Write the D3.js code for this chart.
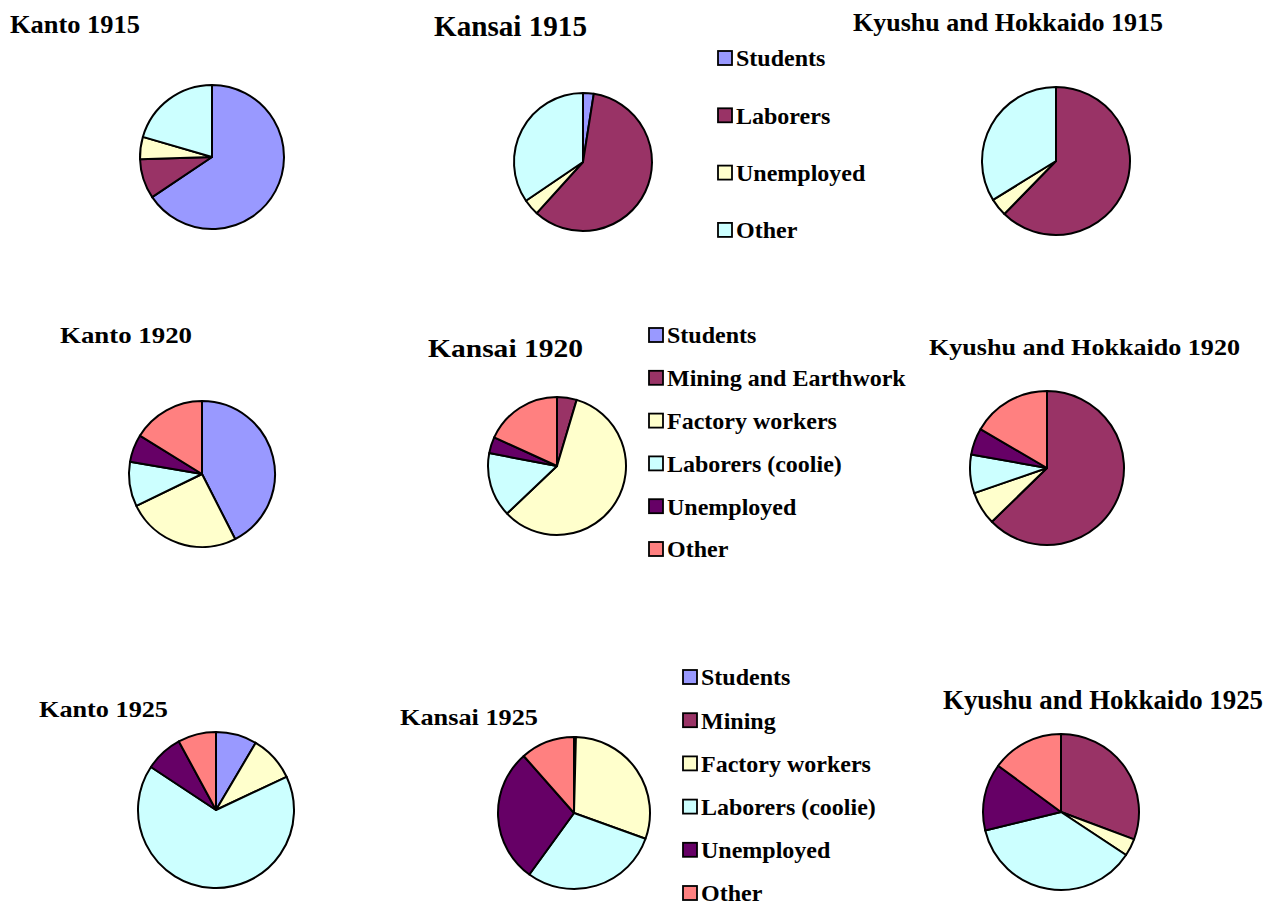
<!DOCTYPE html>
<html>
<head>
<meta charset="utf-8">
<script src="https://cdn.jsdelivr.net/npm/d3@7/dist/d3.min.js"></script>
<style>
  html, body { margin: 0; padding: 0; background: #fff; }
  svg { display: block; }
  text { font-family: "Liberation Serif", "Times New Roman", serif; font-weight: bold; fill: #000; }
</style>
</head>
<body>
<svg id="chart" width="1280" height="906"></svg>
<script>
// ---------------- DATA ----------------
const cats1915 = ["Students", "Laborers", "Unemployed", "Other"];
const cats1920 = ["Students", "Mining and Earthwork", "Factory workers", "Laborers (coolie)", "Unemployed", "Other"];
const cats1925 = ["Students", "Mining", "Factory workers", "Laborers (coolie)", "Unemployed", "Other"];

const titles = [
  "Kanto 1915", "Kansai 1915", "Kyushu and Hokkaido 1915",
  "Kanto 1920", "Kansai 1920", "Kyushu and Hokkaido 1920",
  "Kanto 1925", "Kansai 1925", "Kyushu and Hokkaido 1925"
];

// shares (%) in category order
const kanto1915  = [65.6, 8.9, 5.0, 20.5];
const kansai1915 = [2.5, 59.2, 3.8, 34.5];
const kyushu1915 = [0, 62.3, 3.9, 33.8];

const kanto1920  = [42.5, 0, 25.3, 9.9, 6.1, 16.2];
const kansai1920 = [0, 4.6, 58.3, 15.1, 3.8, 18.2];
const kyushu1920 = [0, 62.7, 7.0, 8.1, 5.6, 16.6];

const kanto1925  = [8.5, 0, 9.5, 66.3, 7.8, 7.9];
const kansai1925 = [0.2, 0.2, 30.1, 29.5, 28.5, 11.5];
const kyushu1925 = [0, 30.7, 3.6, 36.9, 13.9, 14.9];

// ---------------- STYLE / LAYOUT ----------------
const colors1915 = ["#9999FF", "#993366", "#FFFFCC", "#CCFFFF"];
const colors6 = ["#9999FF", "#993366", "#FFFFCC", "#CCFFFF", "#660066", "#FF8080"];

const pieLayout = [
  { cx: 212, cy: 157, r: 72 },
  { cx: 583, cy: 162, r: 69 },
  { cx: 1056, cy: 161, r: 74 },
  { cx: 202, cy: 474, r: 73 },
  { cx: 557, cy: 466, r: 69 },
  { cx: 1047, cy: 468, r: 77 },
  { cx: 216, cy: 810, r: 78 },
  { cx: 574, cy: 813, r: 76 },
  { cx: 1061, cy: 812, r: 78 }
];

const titleLayout = [
  { x: 10,  y: 33,  size: 26, w: 130 },
  { x: 434, y: 36,  size: 30, w: 153 },
  { x: 853, y: 31,  size: 26, w: 310 },
  { x: 60,  y: 343, size: 24, w: 132 },
  { x: 428, y: 357, size: 26, w: 155 },
  { x: 929, y: 355, size: 24, w: 311 },
  { x: 39,  y: 717, size: 24, w: 129 },
  { x: 400, y: 725, size: 24, w: 138 },
  { x: 943, y: 709, size: 27, w: 320 }
];

const legendLayout = [
  { x: 718, y0: 58,  dy: 57.3, size: 24 },
  { x: 649, y0: 335, dy: 42.8, size: 24 },
  { x: 683, y0: 677, dy: 43.2, size: 24 }
];

// ---------------- DRAW ----------------
const svg = d3.select("#chart");

const datasets = [kanto1915, kansai1915, kyushu1915, kanto1920, kansai1920, kyushu1920, kanto1925, kansai1925, kyushu1925];
const catSets = [cats1915, cats1915, cats1915, cats1920, cats1920, cats1920, cats1925, cats1925, cats1925];
const colorSets = [colors1915, colors1915, colors1915, colors6, colors6, colors6, colors6, colors6, colors6];

const pie = d3.pie().sort(null).value(d => d);

datasets.forEach((vals, i) => {
  const L = pieLayout[i];
  const color = d3.scaleOrdinal().domain(d3.range(vals.length)).range(colorSets[i]);
  const arc = d3.arc().innerRadius(0).outerRadius(L.r);
  const g = svg.append("g").attr("transform", `translate(${L.cx},${L.cy})`);
  g.selectAll("path")
    .data(pie(vals).filter(d => d.data > 0))
    .join("path")
    .attr("d", arc)
    .attr("fill", d => color(d.index))
    .attr("stroke", "#000")
    .attr("stroke-width", 2)
    .attr("stroke-linejoin", "round");

  const T = titleLayout[i];
  svg.append("text")
    .attr("x", T.x).attr("y", T.y)
    .attr("font-size", T.size)
    .attr("textLength", T.w)
    .attr("lengthAdjust", "spacingAndGlyphs")
    .text(titles[i]);
});

const legendCats = [cats1915, cats1920, cats1925];
const legendColors = [colors1915, colors6, colors6];

legendCats.forEach((cats, k) => {
  const L = legendLayout[k];
  const y = d3.scalePoint().domain(cats).range([L.y0, L.y0 + L.dy * (cats.length - 1)]);
  const color = d3.scaleOrdinal().domain(cats).range(legendColors[k]);
  const g = svg.append("g");
  const item = g.selectAll("g").data(cats).join("g")
    .attr("transform", d => `translate(${L.x},${y(d)})`);
  item.append("rect")
    .attr("x", 0).attr("y", -7).attr("width", 14).attr("height", 14)
    .attr("fill", d => color(d))
    .attr("stroke", "#000").attr("stroke-width", 1.8);
  item.append("text")
    .attr("x", 18).attr("y", 0)
    .attr("dy", "0.35em")
    .attr("font-size", L.size)
    .text(d => d);
});
</script>
</body>
</html>
